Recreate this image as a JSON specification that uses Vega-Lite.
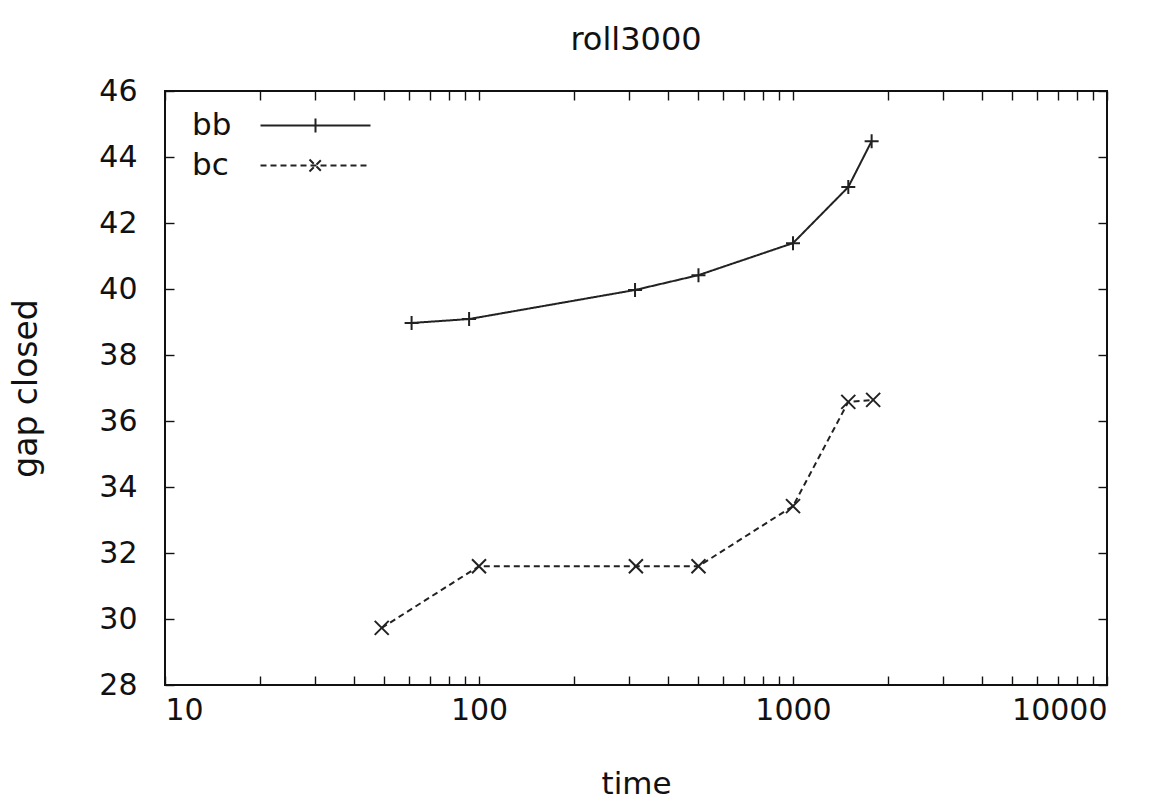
{
  "$schema": "https://vega.github.io/schema/vega-lite/v6.json",
  "width": 942,
  "height": 594,
  "autosize": {"type": "none"},
  "padding": {"left": 165, "top": 91, "right": 65, "bottom": 122},
  "background": "white",
  "title": {"text": "roll3000", "font": "DejaVu Sans", "fontSize": 32, "fontWeight": "normal", "color": "#111", "offset": 19},
  "config": {"view": {"stroke": "#111", "strokeWidth": 2}, "font": "DejaVu Sans"},
  "data": {"values": [
    {"series": "bb", "time": 61, "gap": 38.97},
    {"series": "bb", "time": 93, "gap": 39.09},
    {"series": "bb", "time": 314, "gap": 39.97},
    {"series": "bb", "time": 500, "gap": 40.42},
    {"series": "bb", "time": 1000, "gap": 41.39},
    {"series": "bb", "time": 1500, "gap": 43.09},
    {"series": "bb", "time": 1780, "gap": 44.48},
    {"series": "bc", "time": 49, "gap": 29.73},
    {"series": "bc", "time": 100, "gap": 31.6},
    {"series": "bc", "time": 316, "gap": 31.6},
    {"series": "bc", "time": 500, "gap": 31.6},
    {"series": "bc", "time": 1000, "gap": 33.42},
    {"series": "bc", "time": 1500, "gap": 36.58},
    {"series": "bc", "time": 1800, "gap": 36.64}
  ]},
  "layer": [
    {
      "mark": {"type": "line", "strokeWidth": 2, "color": "#222"},
      "encoding": {
        "x": {"field": "time", "type": "quantitative",
          "scale": {"type": "log", "domain": [10, 10000]},
          "axis": {"orient": "bottom",
            "values": [10,20,30,40,50,60,70,80,90,100,200,300,400,500,600,700,800,900,1000,2000,3000,4000,5000,6000,7000,8000,9000,10000],
            "format": "d",
            "labelExpr": "indexof([10,100,1000,10000], datum.value) >= 0 ? datum.label : ''",
            "tickSize": -9, "tickColor": "#111", "tickWidth": 1.4,
            "domain": false, "grid": false,
            "labelFont": "DejaVu Sans", "labelFontSize": 30, "labelColor": "#111", "labelPadding": 19,
            "title": "time", "titleFont": "DejaVu Sans", "titleFontSize": 31, "titleFontWeight": "normal", "titleColor": "#111", "titlePadding": 44,
            "encode": {"ticks": {"update": {"y2": {"signal": "indexof([10,100,1000,10000], datum.value) >= 0 ? -9 : -5"}}}}
          }},
        "y": {"field": "gap", "type": "quantitative",
          "scale": {"domain": [28, 46], "nice": false, "zero": false},
          "axis": {"orient": "left",
            "values": [28,30,32,34,36,38,40,42,44,46],
            "tickSize": -9, "tickColor": "#111", "tickWidth": 1.4,
            "domain": false, "grid": false,
            "labelFont": "DejaVu Sans", "labelFontSize": 30, "labelColor": "#111", "labelPadding": 37,
            "title": "gap closed", "titleFont": "DejaVu Sans", "titleFontSize": 33, "titleFontWeight": "normal", "titleColor": "#111", "titlePadding": 55
          }},
        "strokeDash": {"field": "series", "type": "nominal",
          "scale": {"domain": ["bb", "bc"], "range": [[1, 0], [6, 4]]},
          "legend": {"orient": "none", "legendX": 18, "legendY": 19, "title": null,
            "padding": 0, "symbolSize": 400, "symbolStrokeWidth": 2, "symbolStrokeColor": "#222",
            "symbolOffset": 117, "labelOffset": -139, "labelAlign": "left",
            "labelFont": "DejaVu Sans", "labelFontSize": 31, "labelColor": "#111",
            "rowPadding": 8,
            "encode": {"symbols": {"update": {"shape": {"signal": "datum.value === 'bb' ? 'M-5.5,0H5.5M0,-0.7V0.7' : 'M-5.5,0H5.5M-0.6,-0.6L0.6,0.6M-0.6,0.6L0.6,-0.6'"}}}}
          }}
      }
    },
    {
      "mark": {"type": "point", "filled": false, "strokeWidth": 2, "size": 196, "color": "#222", "opacity": 1},
      "encoding": {
        "x": {"field": "time", "type": "quantitative",
          "scale": {"type": "log", "domain": [10, 10000]},
          "axis": {"orient": "top",
            "values": [10,20,30,40,50,60,70,80,90,100,200,300,400,500,600,700,800,900,1000,2000,3000,4000,5000,6000,7000,8000,9000,10000],
            "labels": false, "title": null,
            "tickSize": -9, "tickColor": "#111", "tickWidth": 1.4,
            "domain": false, "grid": false,
            "encode": {"ticks": {"update": {"y2": {"signal": "indexof([10,100,1000,10000], datum.value) >= 0 ? 9 : 5"}}}}
          }},
        "y": {"field": "gap", "type": "quantitative",
          "scale": {"domain": [28, 46], "nice": false, "zero": false},
          "axis": {"orient": "right",
            "values": [28,30,32,34,36,38,40,42,44,46],
            "labels": false, "title": null,
            "tickSize": -9, "tickColor": "#111", "tickWidth": 1.4,
            "domain": false, "grid": false
          }},
        "shape": {"field": "series", "type": "nominal",
          "scale": {"range": ["M-1,0H1M0,-1V1", "M-1,-1L1,1M-1,1L1,-1"]},
          "legend": null}
      }
    }
  ],
  "resolve": {"axis": {"x": "independent", "y": "independent"}}
}
